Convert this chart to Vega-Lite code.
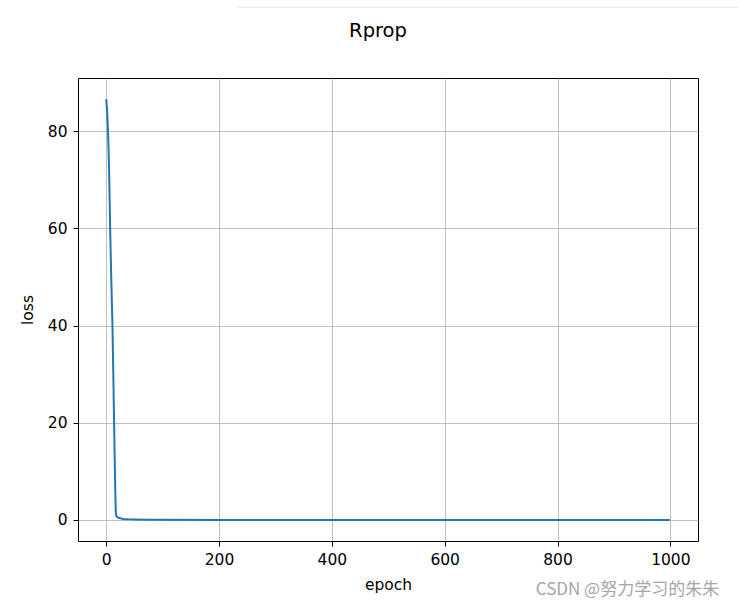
{
  "$schema": "https://vega.github.io/schema/vega-lite/v6.json",
  "width": 620,
  "height": 463,
  "autosize": {"type": "none"},
  "padding": {"left": 78, "top": 78, "right": 41, "bottom": 66},
  "background": "white",
  "title": {"text": "Rprop", "anchor": "middle", "dx": -10, "offset": -54, "baseline": "bottom", "font": "DejaVu Sans", "fontSize": 19.5, "fontWeight": "normal", "color": "#000000"},
  "config": {
    "view": {"stroke": "#000000", "strokeWidth": 1},
    "axis": {
      "labelFont": "DejaVu Sans", "labelFontSize": 15.5, "labelColor": "#000000",
      "titleFont": "DejaVu Sans", "titleFontSize": 15.5, "titleFontWeight": "normal", "titleColor": "#000000",
      "tickColor": "#000000", "tickSize": 5, "tickWidth": 1, "labelPadding": 6,
      "domain": false, "grid": true, "gridColor": "#b0b0b0", "gridWidth": 0.8, "gridOpacity": 1
    }
  },
  "datasets": {
    "loss": [
      {"epoch": 0, "loss": 86.6}, {"epoch": 1, "loss": 85.2}, {"epoch": 2, "loss": 83.2}, {"epoch": 3, "loss": 80.5},
      {"epoch": 4, "loss": 77.0}, {"epoch": 5, "loss": 72.5}, {"epoch": 6, "loss": 66.5}, {"epoch": 7, "loss": 60.0},
      {"epoch": 8, "loss": 54.5}, {"epoch": 9, "loss": 49.5}, {"epoch": 10, "loss": 45.0}, {"epoch": 11, "loss": 40.5},
      {"epoch": 12, "loss": 34.0}, {"epoch": 13, "loss": 27.0}, {"epoch": 14, "loss": 20.0}, {"epoch": 15, "loss": 13.0},
      {"epoch": 16, "loss": 6.5}, {"epoch": 17, "loss": 1.6}, {"epoch": 18, "loss": 0.8}, {"epoch": 20, "loss": 0.55},
      {"epoch": 25, "loss": 0.35}, {"epoch": 30, "loss": 0.22}, {"epoch": 40, "loss": 0.12}, {"epoch": 50, "loss": 0.08},
      {"epoch": 75, "loss": 0.04}, {"epoch": 100, "loss": 0.02}, {"epoch": 200, "loss": 0.01}, {"epoch": 400, "loss": 0.005},
      {"epoch": 600, "loss": 0.003}, {"epoch": 800, "loss": 0.002}, {"epoch": 999, "loss": 0.001}
    ],
    "mark": [{"epoch": 924, "loss": -14.4, "label": "CSDN @努力学习的朱朱"}],
    "topline": [{"x1": 232, "x2": 1120, "y": 105.5}]
  },
  "layer": [
    {
      "data": {"name": "loss"},
      "mark": {"type": "line", "color": "#1f77b4", "strokeWidth": 2},
      "encoding": {
        "x": {"field": "epoch", "type": "quantitative", "title": "epoch",
              "scale": {"domain": [-50, 1049], "nice": false, "zero": false},
              "axis": {"values": [0, 200, 400, 600, 800, 1000], "format": "d", "titlePadding": 10}},
        "y": {"field": "loss", "type": "quantitative", "title": "loss",
              "scale": {"domain": [-4.33, 90.93], "nice": false, "zero": false},
              "axis": {"values": [0, 20, 40, 60, 80], "format": "d", "titlePadding": 12}}
      }
    },
    {
      "data": {"name": "mark"},
      "mark": {"type": "text", "font": "Noto Sans CJK SC", "fontSize": 17, "color": "#a6a6a6", "align": "center", "baseline": "middle"},
      "encoding": {
        "x": {"field": "epoch", "type": "quantitative"},
        "y": {"field": "loss", "type": "quantitative"},
        "text": {"field": "label"}
      }
    },
    {
      "data": {"name": "topline"},
      "mark": {"type": "rule", "color": "#e3e3e3", "strokeWidth": 1},
      "encoding": {
        "x": {"field": "x1", "type": "quantitative"},
        "x2": {"field": "x2"},
        "y": {"field": "y", "type": "quantitative"}
      }
    }
  ]
}
